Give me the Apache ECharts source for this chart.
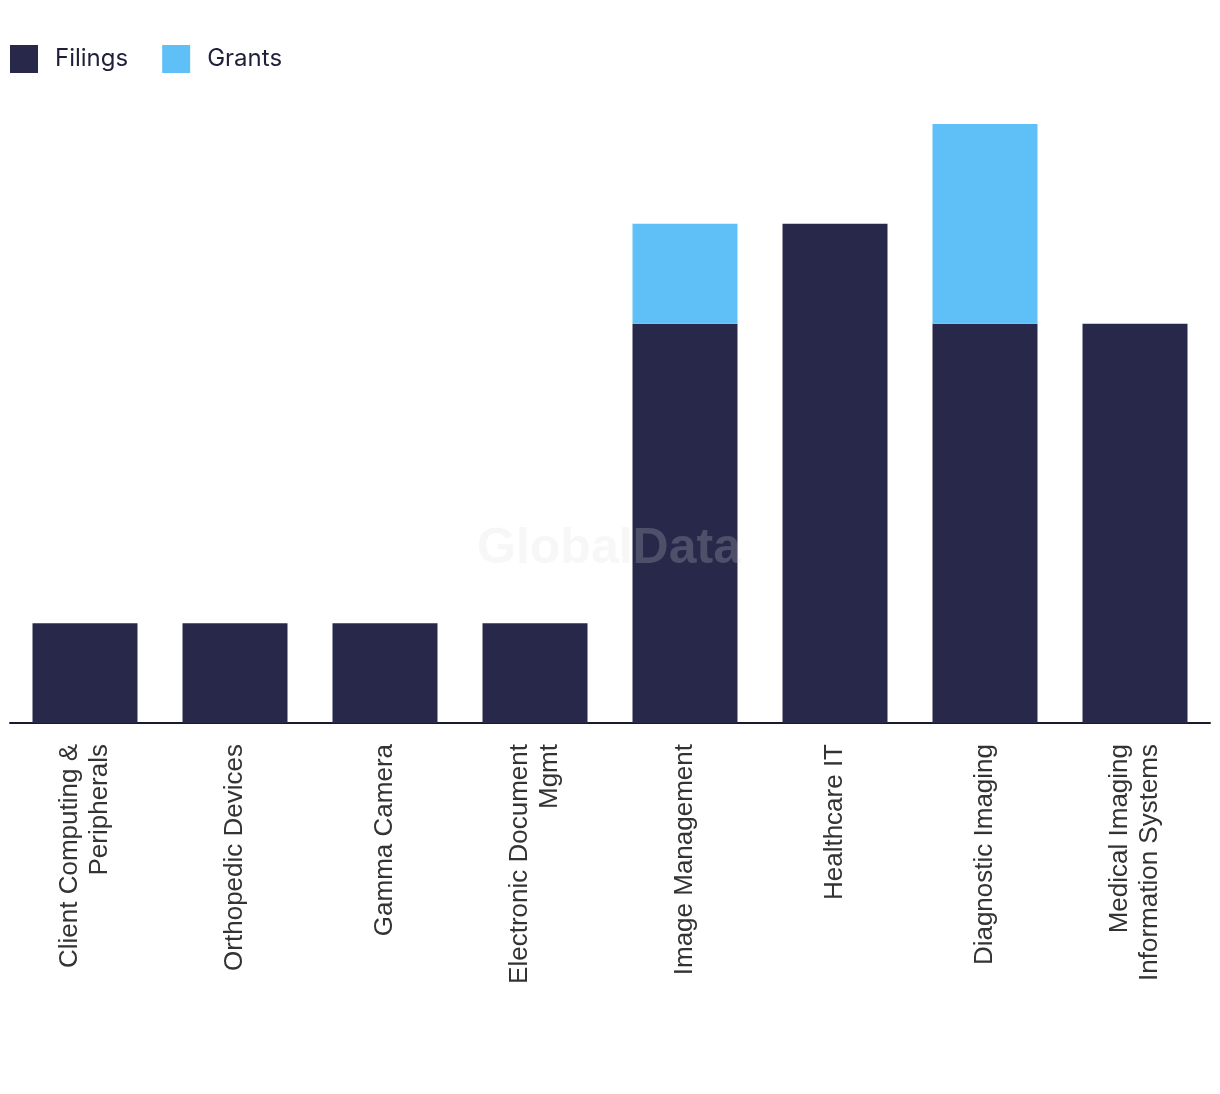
<!DOCTYPE html>
<html>
<head>
<meta charset="utf-8">
<script src="https://cdn.jsdelivr.net/npm/echarts@6/dist/echarts.min.js"></script>
<style>
html,body{margin:0;padding:0;background:#fff;}
#chart{width:1220px;height:1094px;}
</style>
</head>
<body>
<div id="chart"></div>
<script>
const categories = [
  "Client Computing &\nPeripherals",
  "Orthopedic Devices",
  "Gamma Camera",
  "Electronic Document\nMgmt",
  "Image Management",
  "Healthcare IT",
  "Diagnostic Imaging",
  "Medical Imaging\nInformation Systems"
];
const filings = [1, 1, 1, 1, 4, 5, 4, 4];
const grants = [0, 0, 0, 0, 1, 0, 2, 0];

const chart = echarts.init(document.getElementById('chart'));
chart.setOption({
  animation: false,
  legend: {
    left: 5, top: 40,
    itemWidth: 28, itemHeight: 28, itemGap: 34,
    icon: 'rect',
    textStyle: { fontSize: 24, color: '#1f1f3a', fontFamily: 'Inter, Liberation Sans, sans-serif', padding: [0, 0, 0, 12] },
    data: ['Filings', 'Grants']
  },
  grid: { left: 10, right: 10, top: 124, bottom: 371, containLabel: false },
  xAxis: {
    type: 'category',
    data: categories,
    axisLine: { lineStyle: { color: '#1a1a2e', width: 2 } },
    axisTick: { show: false },
    axisLabel: {
      rotate: 90, interval: 0, fontSize: 26, lineHeight: 30,
      color: '#333', fontFamily: 'Liberation Sans, Arial, sans-serif', margin: 21
    }
  },
  yAxis: {
    type: 'value', min: 0, max: 6, interval: 1,
    show: false, splitLine: { show: false }
  },
  series: [
    { name: 'Filings', type: 'bar', stack: 'a', data: filings, barWidth: '70%', itemStyle: { color: '#27284a' } },
    { name: 'Grants', type: 'bar', stack: 'a', data: grants, barWidth: '70%', itemStyle: { color: '#5fc0f8' } }
  ],
  graphic: [{
    type: 'text', x: 609, y: 549, z: 100,
    style: {
      text: 'GlobalData', fontSize: 50, fontWeight: 'bold',
      fontFamily: 'Liberation Sans, Arial, sans-serif',
      fill: 'rgba(220,220,220,0.22)', textAlign: 'center', textVerticalAlign: 'middle'
    }
  }]
});
</script>
</body>
</html>
